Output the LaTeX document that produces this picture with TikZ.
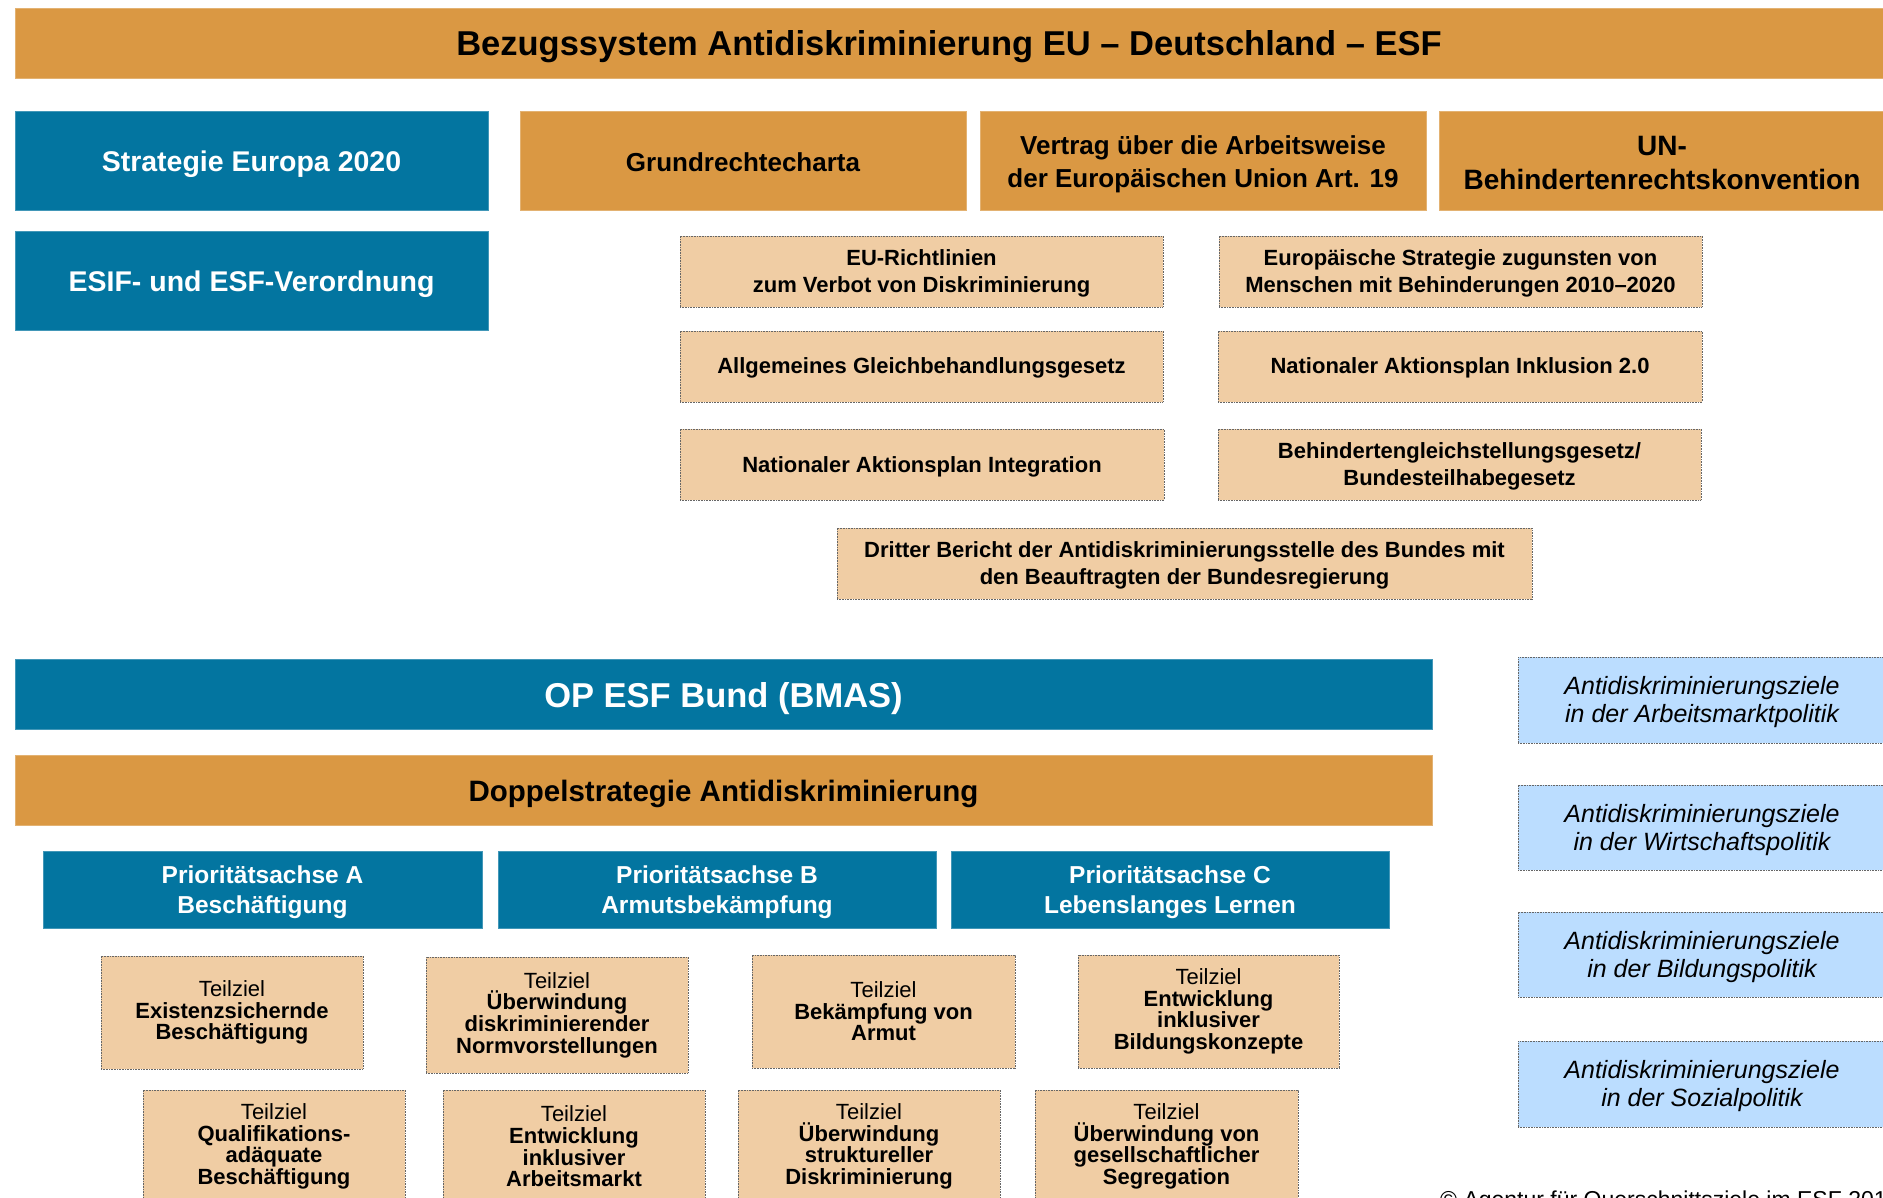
\documentclass[tikz,border=0pt]{standalone}
\usepackage{fontspec}
\setmainfont{Liberation Sans}
\definecolor{barorange}{HTML}{DA9843}
\definecolor{esfblue}{HTML}{0375A0}
\definecolor{paletan}{HTML}{F0CDA4}
\definecolor{paleblue}{HTML}{BBDDFF}
\newcommand\fs[2]{\fontsize{#1}{#2}\selectfont}
% \bx[text drop]{style}{name}{x1}{y1}{x2}{y2}{text}
% box from top-left (x1,y1) to bottom-right (x2,y2), in pt, y downwards;
% the text sits in its own node at the box centre, lowered by the drop
\newcommand\bx[8][0]{%
  \node[#2, minimum width={#6pt-#4pt}, minimum height={#7pt-#5pt}] (#3) at (#4,#5) {};
  \node[#2, fill=none, draw=none, anchor=center, minimum width=0pt, minimum height=0pt, yshift=-#1pt] (#3-text) at (#3.center) {#8};}
\tikzset{
  box/.style={anchor=north west, inner sep=0pt, outer sep=0pt, align=center},
  orangebar/.style={box, fill=barorange, draw=barorange!75!white, line width=0.8pt},
  bluebar/.style={box, fill=esfblue, draw=esfblue!75!white, line width=0.8pt, text=white},
  tanbox/.style={box, fill=paletan, draw=black!60, line width=0.7pt, dash pattern=on 0.8pt off 0.8pt},
  skybox/.style={box, fill=paleblue, draw=black!60, line width=0.7pt, dash pattern=on 0.8pt off 0.8pt},
  goal/.style={tanbox, font=\fs{22}{21.6}\bfseries},
  law/.style={tanbox, font=\fs{22}{27}\bfseries},
  policy/.style={skybox, font=\fs{25}{28}\itshape},
}
\begin{document}
\begin{tikzpicture}[x=1pt,y=-1pt]
\useasboundingbox (0,0) rectangle (1883,1198);
\clip (0,0) rectangle (1883,1198);

% header
\bx[4]{orangebar, font=\fs{34.5}{40}\bfseries}{title}{15}{8}{1883}{78}{Bezugssystem Antidiskriminierung EU – Deutschland – ESF}

% European frame
\bx[4]{bluebar, font=\fs{28.5}{34}\bfseries}{strat}{15}{111}{488}{210}{Strategie Europa 2020}
\bx[4]{bluebar, font=\fs{28.5}{34}\bfseries}{esif}{15}{231}{488}{330}{ESIF- und ESF-Verordnung}
\bx[2]{orangebar, font=\fs{26}{33}\bfseries}{grc}{520}{111}{966}{210}{Grundrechtecharta}
\bx[4]{orangebar, font=\fs{26}{33}\bfseries}{aeuv}{980}{111}{1426}{210}{Vertrag über die Arbeitsweise\\der Europäischen Union Art. 19}
\bx[2.5]{orangebar, font=\fs{28}{33.6}\bfseries}{unbrk}{1439}{111}{1885}{210}{UN-\\Behindertenrechtskonvention}

% legal basis
\bx[2]{law}{eurl}{680}{236}{1163}{307}{EU-Richtlinien\\zum Verbot von Diskriminierung}
\bx[2]{law}{eustrat}{1219}{236}{1702}{307}{Europäische Strategie zugunsten von\\Menschen mit Behinderungen 2010–2020}
\bx[1.5]{law}{agg}{680}{331}{1163}{402}{Allgemeines Gleichbehandlungsgesetz}
\bx[1.5]{law}{napinkl}{1218}{331}{1702}{402}{Nationaler Aktionsplan Inklusion 2.0}
\bx[2]{law}{napint}{680}{429}{1164}{500}{Nationaler Aktionsplan Integration}
\bx[2]{law}{bgg}{1218}{429}{1701}{500}{Behindertengleichstellungsgesetz/\\Bundesteilhabegesetz}
\bx[2]{law}{dritter}{837}{528}{1532}{599}{Dritter Bericht der Antidiskriminierungsstelle des Bundes mit\\den Beauftragten der Bundesregierung}

% operational programme
\bx[5]{bluebar, font=\fs{34.5}{40}\bfseries}{op}{15}{659}{1432}{729}{OP ESF Bund (BMAS)}
\bx[3.5]{orangebar, font=\fs{29.5}{35}\bfseries}{dopp}{15}{755}{1432}{825}{Doppelstrategie Antidiskriminierung}
\bx[3]{bluebar, font=\fs{24.5}{30}\bfseries}{pa}{43}{851}{482}{928}{Prioritätsachse A\\Beschäftigung}
\bx[3]{bluebar, font=\fs{24.5}{30}\bfseries}{pb}{498}{851}{936}{928}{Prioritätsachse B\\Armutsbekämpfung}
\bx[3]{bluebar, font=\fs{24.5}{30}\bfseries}{pc}{951}{851}{1389}{928}{Prioritätsachse C\\Lebenslanges Lernen}

% sub-goals
\bx{goal}{t1}{101}{956}{363}{1069}{{\mdseries Teilziel}\\Existenzsichernde\\Beschäftigung}
\bx{goal}{t2}{426}{957}{688}{1073}{{\mdseries Teilziel}\\Überwindung\\diskriminierender\\Normvorstellungen}
\bx{goal}{t3}{752}{955}{1015}{1068}{{\mdseries Teilziel}\\Bekämpfung von\\Armut}
\bx{goal}{t4}{1078}{955}{1339}{1068}{{\mdseries Teilziel}\\Entwicklung\\inklusiver\\Bildungskonzepte}
\bx{goal}{t5}{143}{1090}{405}{1203}{{\mdseries Teilziel}\\Qualifikations-\\adäquate\\Beschäftigung}
\bx{goal}{t6}{443}{1090}{705}{1203}{{\mdseries Teilziel}\\Entwicklung\\inklusiver\\Arbeitsmarkt}
\bx{goal}{t7}{738}{1090}{1000}{1203}{{\mdseries Teilziel}\\Überwindung\\struktureller\\Diskriminierung}
\bx{goal}{t8}{1035}{1090}{1298}{1203}{{\mdseries Teilziel}\\Überwindung von\\gesellschaftlicher\\Segregation}

% policy fields
\bx[2.5]{policy}{amp}{1518}{657}{1886}{743}{Antidiskriminierungsziele\\in der Arbeitsmarktpolitik}
\bx[2.5]{policy}{wip}{1518}{785}{1886}{870}{Antidiskriminierungsziele\\in der Wirtschaftspolitik}
\bx[2.5]{policy}{bip}{1518}{912}{1886}{997}{Antidiskriminierungsziele\\in der Bildungspolitik}
\bx[2.5]{policy}{sop}{1518}{1041}{1886}{1127}{Antidiskriminierungsziele\\in der Sozialpolitik}

% source line
\node[anchor=base west, inner sep=0pt, font=\fs{23}{27}] (src) at (1440,1207) {© Agentur für Querschnittsziele im ESF 2018};
\end{tikzpicture}
\end{document}
